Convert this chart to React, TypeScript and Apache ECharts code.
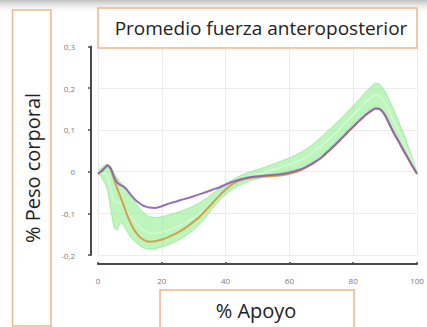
import React, { useEffect, useRef } from "react";
import * as echarts from "echarts";

// % of stance phase at which each curve is sampled
const xPct = [
  0, 1, 2, 3, 4, 5, 6, 7, 8, 9, 10, 11, 12, 13, 14, 15, 16, 18, 20, 22, 24, 26, 28, 30, 32, 34, 36, 38, 40,
  42, 44, 46, 48, 50, 52, 54, 56, 58, 60, 62, 64, 66, 68, 70, 72, 74, 76, 78, 80, 82, 84, 86, 87, 88, 89,
  90, 91, 92, 93, 94, 95, 96, 97, 98, 99, 100,
];

// Mean antero-posterior force, purple condition (% body weight)
const purpleMean = [
  -0.005, 0.0, 0.008, 0.015, 0.008, -0.012, -0.026, -0.032, -0.036, -0.043, -0.053, -0.062, -0.07, -0.076,
  -0.081, -0.084, -0.086, -0.087, -0.083, -0.077, -0.073, -0.068, -0.064, -0.059, -0.054, -0.049, -0.043,
  -0.038, -0.031, -0.025, -0.02, -0.016, -0.013, -0.011, -0.01, -0.008, -0.007, -0.005, -0.002, 0.002, 0.007,
  0.015, 0.024, 0.034, 0.048, 0.062, 0.077, 0.093, 0.108, 0.123, 0.137, 0.148, 0.152, 0.151, 0.146, 0.135,
  0.12, 0.104, 0.089, 0.076, 0.062, 0.048, 0.035, 0.021, 0.008, -0.005,
];

// Mean antero-posterior force, orange condition
const orangeMean = [
  -0.005, 0.0, 0.008, 0.014, 0.004, -0.018, -0.04, -0.06, -0.08, -0.101, -0.12, -0.135, -0.147, -0.156,
  -0.162, -0.166, -0.168, -0.167, -0.163, -0.157, -0.15, -0.142, -0.132, -0.12, -0.107, -0.091, -0.074,
  -0.058, -0.043, -0.031, -0.023, -0.018, -0.015, -0.013, -0.012, -0.011, -0.01, -0.008, -0.005, -0.001,
  0.005, 0.013, 0.022, 0.033, 0.047, 0.061, 0.076, 0.092, 0.107, 0.122, 0.136, 0.147, 0.151, 0.15, 0.145,
  0.134, 0.119, 0.103, 0.088, 0.075, 0.061, 0.047, 0.034, 0.02, 0.007, -0.006,
];

// Reference group: mean and the lower / upper edges of its band
const refMean = [
  -0.001, -0.002, -0.004, -0.012, -0.04, -0.07, -0.075, -0.073, -0.082, -0.094, -0.105, -0.115, -0.124,
  -0.132, -0.139, -0.144, -0.147, -0.148, -0.145, -0.14, -0.135, -0.128, -0.12, -0.111, -0.1, -0.086, -0.07,
  -0.055, -0.042, -0.032, -0.023, -0.016, -0.01, -0.006, -0.002, 0.003, 0.007, 0.012, 0.017, 0.023, 0.03,
  0.039, 0.05, 0.062, 0.075, 0.089, 0.104, 0.12, 0.136, 0.152, 0.168, 0.18, 0.184, 0.183, 0.176, 0.164,
  0.149, 0.132, 0.116, 0.1, 0.084, 0.067, 0.05, 0.032, 0.013, -0.003,
];

const refLower = [
  -0.006, -0.012, -0.025, -0.045, -0.09, -0.135, -0.14, -0.122, -0.128, -0.142, -0.155, -0.163, -0.171,
  -0.177, -0.182, -0.185, -0.186, -0.185, -0.181, -0.176, -0.169, -0.161, -0.151, -0.14, -0.125, -0.107,
  -0.088, -0.07, -0.055, -0.043, -0.034, -0.027, -0.021, -0.017, -0.013, -0.01, -0.007, -0.003, 0.001, 0.006,
  0.012, 0.02, 0.029, 0.04, 0.053, 0.067, 0.082, 0.098, 0.114, 0.129, 0.143, 0.153, 0.156, 0.154, 0.147,
  0.135, 0.12, 0.104, 0.089, 0.075, 0.061, 0.047, 0.034, 0.02, 0.007, -0.006,
];

const refUpper = [
  0.004, 0.008, 0.016, 0.018, 0.01, -0.002, -0.015, -0.025, -0.035, -0.045, -0.055, -0.066, -0.077, -0.087,
  -0.096, -0.103, -0.108, -0.11, -0.108, -0.104, -0.1, -0.095, -0.089, -0.082, -0.074, -0.064, -0.052, -0.04,
  -0.029, -0.02, -0.012, -0.005, 0.0, 0.005, 0.01, 0.016, 0.021, 0.027, 0.033, 0.04, 0.048, 0.058, 0.07,
  0.083, 0.097, 0.111, 0.126, 0.142, 0.158, 0.174, 0.192, 0.207, 0.212, 0.211, 0.204, 0.192, 0.177, 0.16,
  0.143, 0.125, 0.106, 0.087, 0.066, 0.044, 0.02, 0.0,
];

const xTicks = [0, 20, 40, 60, 80, 100];
const yTicks = [-0.2, -0.1, 0, 0.1, 0.2, 0.3];

const chartTitle = "Promedio fuerza anteroposterior";
const yTitle = "% Peso corporal";
const xTitle = "% Apoyo";

const W = 427;
const H = 327;
const boxStroke = "#f2b48a";
const titleFont = "'Open Sans', 'Noto Sans', sans-serif";
const bandEdge = "rgba(110,225,110,0.5)";

const pairs = (ys: number[]) => xPct.map((x, i) => [x, ys[i]]);

const fmtY = (v: number) => {
  const r = Math.round(v * 10) / 10;
  return r === 0 ? "0" : r.toFixed(1).replace(".", ",");
};

export default function App() {
  const ref = useRef<HTMLDivElement>(null);

  useEffect(() => {
    if (!ref.current) return;
    const chart = echarts.init(ref.current, undefined, { renderer: "svg" });

    // shaded band of the reference group, drawn as one polygon in data coordinates
    const renderBand = (_params: any, api: any) => {
      const top = xPct.map((x, i) => api.coord([x, refUpper[i]]));
      const bottom = xPct.map((x, i) => api.coord([x, refLower[i]])).reverse();
      return {
        type: "polygon",
        shape: { points: top.concat(bottom) },
        style: { fill: "rgba(135,236,135,0.55)", stroke: "none" },
      };
    };

    chart.setOption({
      animation: false,
      backgroundColor: "#ffffff",
      grid: { left: 98, right: 10, top: 46.5, bottom: 72 },
      xAxis: {
        type: "value",
        min: xTicks[0],
        max: xTicks[xTicks.length - 1],
        interval: 20,
        offset: 9,
        axisLine: { show: true, onZero: false, lineStyle: { color: "#4a4a4a", width: 2 } },
        axisTick: { show: true, inside: true, length: 2, lineStyle: { color: "#4a4a4a", width: 1.5 } },
        axisLabel: { color: "#7a7a7a", fontSize: 8, margin: 12, fontFamily: titleFont },
        splitLine: { show: true, lineStyle: { color: "#ececec", width: 1 } },
      },
      yAxis: {
        type: "value",
        min: yTicks[0],
        max: yTicks[yTicks.length - 1],
        interval: 0.1,
        offset: 7,
        axisLine: { show: true, onZero: false, lineStyle: { color: "#4a4a4a", width: 2 } },
        axisTick: { show: true, inside: false, length: 3, lineStyle: { color: "#4a4a4a", width: 1.5 } },
        axisLabel: { color: "#7a7a7a", fontSize: 8, margin: 16, fontFamily: titleFont, formatter: fmtY },
        splitLine: { show: true, lineStyle: { color: "#ececec", width: 1 } },
      },
      series: [
        {
          name: "refBand",
          type: "custom",
          renderItem: renderBand,
          data: [[xTicks[0], yTicks[0]]],
          encode: { x: 0, y: 1 },
          silent: true,
          z: 1,
        },
        {
          name: "refLower",
          type: "line",
          data: pairs(refLower),
          symbol: "none",
          lineStyle: { color: bandEdge, width: 1 },
          z: 2,
        },
        {
          name: "refUpper",
          type: "line",
          data: pairs(refUpper),
          symbol: "none",
          lineStyle: { color: bandEdge, width: 1 },
          z: 2,
        },
        {
          name: "refMean",
          type: "line",
          data: pairs(refMean),
          symbol: "none",
          smooth: 0.2,
          lineStyle: { color: "rgba(215,250,215,0.9)", width: 1.5 },
          z: 2,
        },
        {
          name: "orange",
          type: "line",
          data: pairs(orangeMean),
          symbol: "none",
          smooth: 0.2,
          lineStyle: { color: "#d2a04e", width: 2 },
          z: 3,
        },
        {
          name: "purple",
          type: "line",
          data: pairs(purpleMean),
          symbol: "none",
          smooth: 0.2,
          lineStyle: { color: "#8c5fb4", width: 2, opacity: 0.9 },
          z: 4,
        },
      ],
      graphic: [
        {
          type: "rect",
          shape: { x: 0, y: 0, width: W, height: 14 },
          style: {
            fill: new echarts.graphic.LinearGradient(0, 0, 0, 1, [
              { offset: 0, color: "rgba(180,180,180,0.85)" },
              { offset: 1, color: "rgba(255,255,255,0)" },
            ]),
          },
          silent: true,
          z: 10,
        },
        {
          type: "rect",
          shape: { x: 98, y: 8, width: 319, height: 40 },
          style: { fill: "#ffffff", stroke: boxStroke, lineWidth: 1.5 },
          z: 20,
        },
        {
          type: "text",
          x: 261,
          y: 28,
          style: {
            text: chartTitle,
            fontSize: 19,
            fontFamily: titleFont,
            fill: "#222222",
            align: "center",
            verticalAlign: "middle",
          },
          z: 21,
        },
        {
          type: "rect",
          shape: { x: 12.5, y: 10, width: 38.5, height: 316 },
          style: { fill: "#ffffff", stroke: boxStroke, lineWidth: 1.5 },
          z: 20,
        },
        {
          type: "text",
          x: 32,
          y: 168,
          rotation: Math.PI / 2,
          style: {
            text: yTitle,
            fontSize: 20,
            fontFamily: titleFont,
            fill: "#222222",
            align: "center",
            verticalAlign: "middle",
          },
          z: 21,
        },
        {
          type: "rect",
          shape: { x: 160, y: 290, width: 194, height: 45 },
          style: { fill: "#ffffff", stroke: boxStroke, lineWidth: 1.5 },
          z: 20,
        },
        {
          type: "text",
          x: 256,
          y: 310,
          style: {
            text: xTitle,
            fontSize: 20,
            fontFamily: titleFont,
            fill: "#222222",
            align: "center",
            verticalAlign: "middle",
          },
          z: 21,
        },
      ],
    });

    return () => chart.dispose();
  }, []);

  return (
    <div
      ref={ref}
      style={{ position: "fixed", left: 0, top: 0, width: W, height: H, background: "#ffffff" }}
    />
  );
}
